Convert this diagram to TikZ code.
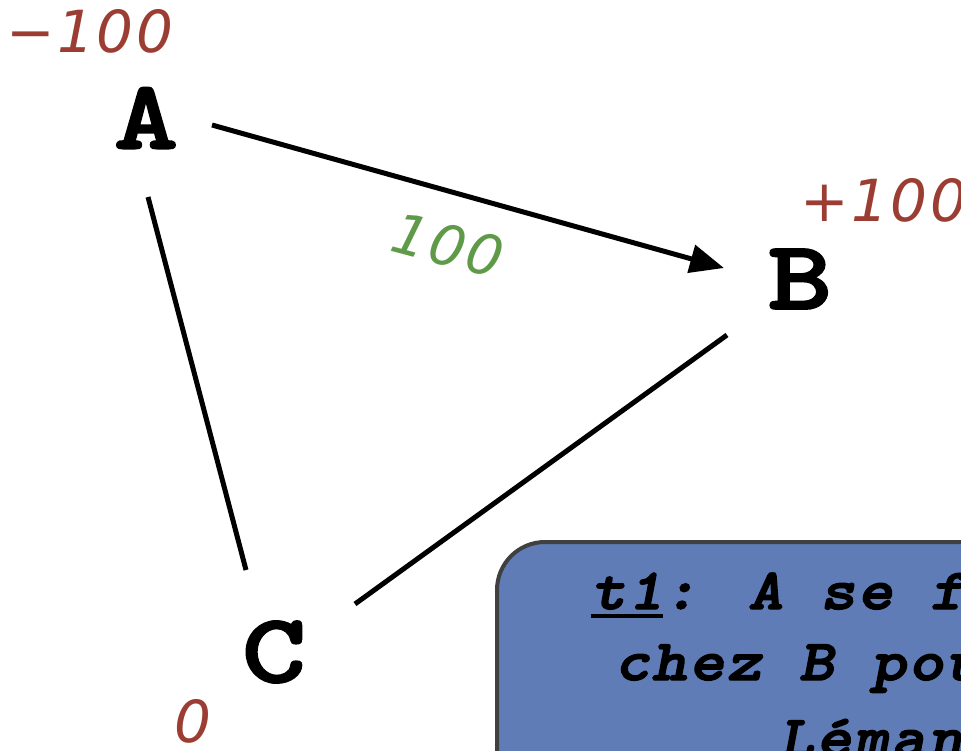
\documentclass[tikz,border=0pt]{standalone}
\usepackage{fontspec}
\usetikzlibrary{arrows.meta}
\newfontfamily\nodefont[FakeStretch=1.25,FakeBold=2]{lmmonolt10-bold.otf}
\newfontfamily\boxfont[FakeStretch=1.15,FakeBold=2.5,LetterSpace=4]{lmmonolt10-boldoblique.otf}
\newfontfamily\numfont[LetterSpace=4]{DejaVu Sans}
\definecolor{numred}{HTML}{9B3D33}
\definecolor{numgreen}{HTML}{5E9A48}
\definecolor{boxfill}{HTML}{5F7CB6}
\definecolor{boxline}{HTML}{404040}
\newcommand\myul[1]{\setbox0\hbox{#1}\rlap{\rule[-9pt]{\wd0}{4.5pt}}\box0}
\tikzset{
  vertex/.style={inner sep=0pt, font=\nodefont\fontsize{98}{98}\selectfont},
  balance/.style={inner sep=0pt, text=numred, font=\numfont\itshape\fontsize{58}{58}\selectfont},
  flow/.style={inner sep=0pt, text=numgreen, font=\numfont\itshape\fontsize{56}{56}\selectfont},
  edge/.style={line width=5pt, black},
  txbox/.style={draw=boxline, fill=boxfill, line width=4pt, rounded corners=48pt},
  boxtext/.style={inner sep=0pt, anchor=base, font=\boxfont\fontsize{58}{70}\selectfont}
}
\begin{document}
\begin{tikzpicture}[x=1pt,y=-1pt]
\useasboundingbox (0,0) rectangle (961,750);
\clip (0,0) rectangle (961,750);
\fill[white] (0,0) rectangle (961,750);
% nodes
\node[vertex] (A) at (146,118) {A};
\node[vertex] (B) at (800,279) {B};
\node[vertex] (C) at (274,652) {C};
% balances
\node[balance] (bA) at (90,31) {−100};
\node[balance] (bB) at (884,200) {+100};
\node[balance] (bC) at (193,721) {0};
% edges
\draw[edge, -{Triangle[length=34pt,width=28pt]}] ([shift={(66,7)}]A.center) -- ([shift={(-76,-11)}]B.center);
\draw[edge] ([shift={(2,79)}]A.center) -- ([shift={(-28,-82)}]C.center);
\draw[edge] ([shift={(-73,56)}]B.center) -- ([shift={(81,-48)}]C.center);
\node[flow, rotate=-15] (fAB) at (448,245) {100};
% transaction box
\draw[txbox] (497,542) rectangle (1300,950);
\node[boxtext] (l1) at (890,609) {\myul{t1}: A se fournit};
\node[boxtext] (l2) at (890,680) {chez B pour 100};
\node[boxtext] (l3) at (890,756) {Léman.};
\end{tikzpicture}
\end{document}
